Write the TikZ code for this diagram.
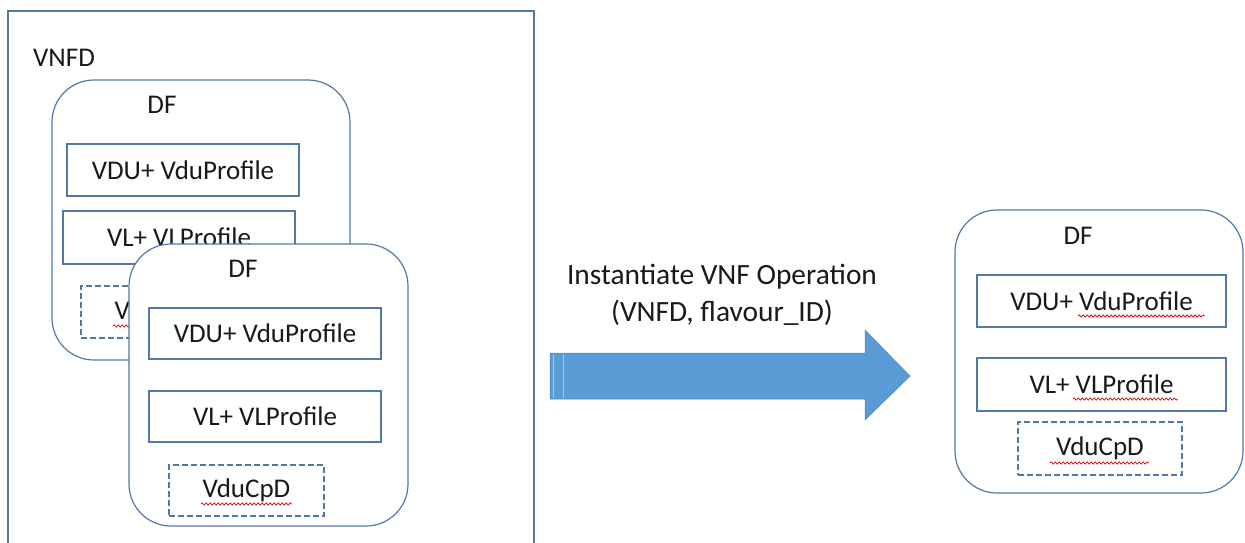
\documentclass[tikz,border=0pt]{standalone}
\usepackage{fontspec}
\setmainfont{Carlito}
\usepackage{tikz}
\usetikzlibrary{calc,decorations.pathmorphing,positioning}
\definecolor{boxblue}{HTML}{5079A8}
\definecolor{arrowblue}{HTML}{5B9BD5}
\tikzset{%
	vnfdbox/.style  = {draw=boxblue, line width=1.2pt, rectangle, inner sep=0pt},
	dfbox/.style    = {draw=boxblue, line width=1.2pt, rectangle, rounded corners=42pt, fill=white, inner sep=0pt},
	itembox/.style  = {draw=boxblue, line width=1.2pt, rectangle, fill=white, inner sep=0pt, text=black!90, font=\fontsize{27}{32}\selectfont, text centered},
	cpbox/.style    = {itembox, dash pattern=on 6pt off 3pt},
	titletext/.style= {inner sep=0pt, text=black!90, font=\fontsize{27}{32}\selectfont},
	squiggle/.style = {red!85!black, line width=0.7pt, decorate, decoration={snake, segment length=4pt, amplitude=1.1pt}},
}

\begin{document}
\begin{tikzpicture}[x=1pt,y=-1pt]
	\useasboundingbox (0,0) rectangle (1245,542);
	% VNFD
	\node[vnfdbox, minimum width=526pt, minimum height=558pt] (vnfd) at (271,290) {};
	\node[titletext] (vnfdTitle) at (64,58) {VNFD};
	% back DF
	\node[dfbox, minimum width=298pt, minimum height=280pt] (dfBack) at (201,220) {};
	\node[titletext] (dfBackTitle) at (162,105) {DF};
	\node[itembox, minimum width=232pt, minimum height=52pt] (vduBack) at (183,170) {VDU+ VduProfile};
	\node[itembox, minimum width=232pt, minimum height=53pt] (vlBack) at (179,237.5) {VL+ VLProfile};
	\node[cpbox, minimum width=155pt, minimum height=52pt] (cpBack) at (158.5,312) {VduCpD};
	\draw[squiggle] (113,326) -- (204,326);
	% front DF
	\node[dfbox, minimum width=279pt, minimum height=282pt] (dfFront) at (268.5,385) {};
	\node[titletext] (dfFrontTitle) at (243,269) {DF};
	\node[itembox, minimum width=232pt, minimum height=51pt] (vduFront) at (265,333.5) {VDU+ VduProfile};
	\node[itembox, minimum width=232pt, minimum height=51pt] (vlFront) at (265,416.5) {VL+ VLProfile};
	\node[cpbox, minimum width=155pt, minimum height=51pt] (cpFront) at (246.5,490.5) {VduCpD};
	\draw[squiggle] (201,504) -- (292,504);
	% operation arrow
	\fill[arrowblue, draw=arrowblue!85!black, line width=0.5pt]
		(550,353) -- (865,353) -- (865,330) -- (910,376) -- (865,420) -- (865,399) -- (550,399) -- cycle;
	\draw[white, opacity=0.45, line width=1pt] (553,354) -- (553,398);
	\draw[white, opacity=0.45, line width=1pt] (563,354) -- (563,398);
	\node[titletext, align=center, font=\fontsize{29.4}{37}\selectfont] (opLabel) at (722,295)
		{Instantiate VNF Operation\\(VNFD, flavour\_ID)};
	% resulting DF
	\node[dfbox, minimum width=288pt, minimum height=283pt] (dfRight) at (1099,351.5) {};
	\node[titletext] (dfRightTitle) at (1078,236) {DF};
	\node[itembox, minimum width=249pt, minimum height=52pt] (vduRight) at (1101.5,301) {VDU+ VduProfile};
	\node[itembox, minimum width=249pt, minimum height=53pt] (vlRight) at (1101.5,384.5) {VL+ VLProfile};
	\node[cpbox, minimum width=164pt, minimum height=53pt] (cpRight) at (1100,448.5) {VduCpD};
	\draw[squiggle] (1078,316) -- (1205,316);
	\draw[squiggle] (1073,399) -- (1178,399);
	\draw[squiggle] (1050,463) -- (1149,463);
\end{tikzpicture}
\end{document}
